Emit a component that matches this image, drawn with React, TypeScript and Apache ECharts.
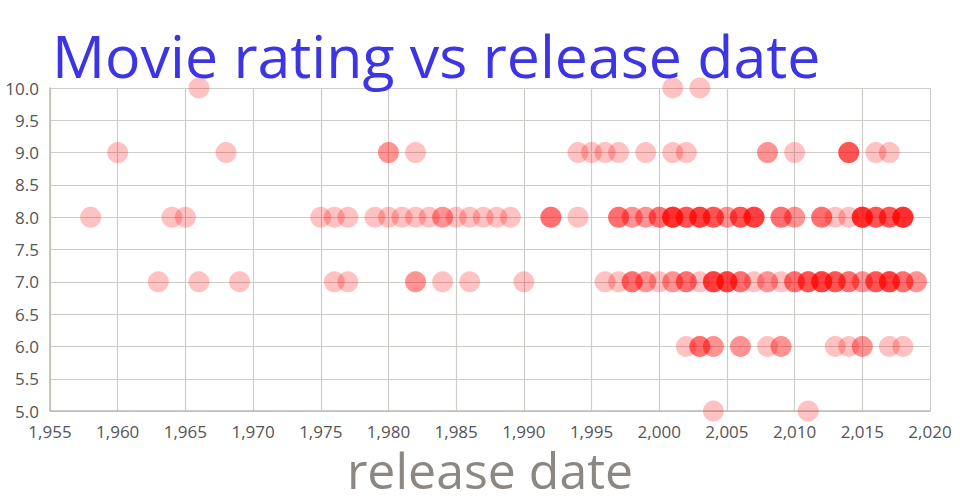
import React, { useEffect, useRef } from "react";
import * as echarts from "echarts";

const titleText = "Movie rating vs release date";
const xAxisName = "release date";

const rating10Years = [1966, 2001, 2003];
const rating9Years = [1960, 1968, 1980, 1980, 1982, 1994, 1995, 1996, 1997, 1999, 2001, 2002, 2008, 2008, 2010, 2014, 2014, 2014, 2014, 2016, 2017];
const rating8Years = [
  1958, 1964, 1965, 1975, 1976, 1977, 1979, 1980, 1981, 1982, 1983, 1984, 1984, 1985, 1986, 1987, 1988, 1989,
  1992, 1992, 1992, 1994, 1997, 1997, 1997, 1998, 1998, 1999, 1999, 2000, 2000, 2000,
  2001, 2001, 2001, 2001, 2001, 2001, 2002, 2002, 2002, 2002, 2003, 2003, 2003, 2003, 2003,
  2004, 2004, 2004, 2004, 2005, 2005, 2006, 2006, 2006, 2006, 2007, 2007, 2007, 2007, 2007,
  2009, 2009, 2009, 2010, 2010, 2012, 2012, 2012, 2013, 2014,
  2015, 2015, 2015, 2015, 2015, 2015, 2016, 2016, 2016, 2016, 2017, 2017, 2017, 2017,
  2018, 2018, 2018, 2018, 2018, 2018,
];
const rating7Years = [
  1963, 1966, 1969, 1976, 1977, 1982, 1982, 1984, 1986, 1990,
  1996, 1997, 1998, 1998, 1998, 1999, 1999, 2000, 2001, 2001, 2002, 2002, 2002, 2003,
  2004, 2004, 2004, 2004, 2004, 2005, 2005, 2005, 2005, 2005, 2006, 2006, 2006, 2007, 2008, 2008,
  2009, 2010, 2010, 2010, 2011, 2011, 2011, 2011, 2012, 2012, 2012, 2012, 2012,
  2013, 2013, 2013, 2013, 2014, 2014, 2014, 2015, 2015, 2016, 2016, 2016, 2016,
  2017, 2017, 2017, 2017, 2017, 2018, 2018, 2018, 2019, 2019,
];
const rating6Years = [2002, 2003, 2003, 2003, 2004, 2004, 2006, 2006, 2008, 2009, 2009, 2013, 2014, 2015, 2015, 2017, 2018];
const rating5Years = [2004, 2011];

const ratings = [10, 9, 8, 7, 6, 5];
const yearsByRating = [rating10Years, rating9Years, rating8Years, rating7Years, rating6Years, rating5Years];

export default function App() {
  const ref = useRef<HTMLDivElement>(null);
  useEffect(() => {
    if (!ref.current) return;
    const chart = echarts.init(ref.current, undefined, { renderer: "svg" });
    const data: number[][] = [];
    ratings.forEach((r, i) => {
      yearsByRating[i].forEach((y) => data.push([y, r]));
    });
    const font = "'Open Sans', 'Noto Sans', sans-serif";
    chart.setOption({
      animation: false,
      backgroundColor: "#ffffff",
      title: {
        text: titleText,
        left: 47,
        top: 20,
        textStyle: { color: "#3d34e3", fontSize: 59, fontWeight: "normal", fontFamily: font },
      },
      grid: { left: 50, right: 30, top: 88, bottom: 88, containLabel: false },
      xAxis: {
        type: "value",
        min: 1955,
        max: 2020,
        interval: 5,
        name: xAxisName,
        nameLocation: "middle",
        nameGap: 32,
        nameTextStyle: { color: "#8c8782", fontSize: 50, fontFamily: font },
        axisLine: { show: true, lineStyle: { color: "#bdbbb5", width: 1.5 } },
        axisTick: { show: false },
        axisLabel: {
          color: "#555555",
          fontSize: 17,
          fontFamily: font,
          margin: 12,
          formatter: (v: number) => v.toLocaleString("en-US"),
        },
        splitLine: { show: true, lineStyle: { color: "#cfcdc8", width: 1.2 } },
      },
      yAxis: {
        type: "value",
        min: 5,
        max: 10,
        interval: 0.5,
        axisLine: { show: true, lineStyle: { color: "#bdbbb5", width: 1.5 } },
        axisTick: { show: false },
        axisLabel: {
          color: "#555555",
          fontSize: 17,
          fontFamily: font,
          margin: 11,
          formatter: (v: number) => v.toFixed(1),
        },
        splitLine: { show: true, lineStyle: { color: "#cfcdc8", width: 1.2 } },
      },
      series: [
        {
          type: "scatter",
          data,
          symbolSize: 21,
          itemStyle: { color: "rgba(255,0,0,0.3)" },
          clip: false,
        },
      ],
    });
    return () => chart.dispose();
  }, []);
  return <div ref={ref} style={{ position: "absolute", left: 0, top: 0, width: 960, height: 500 }} />;
}
